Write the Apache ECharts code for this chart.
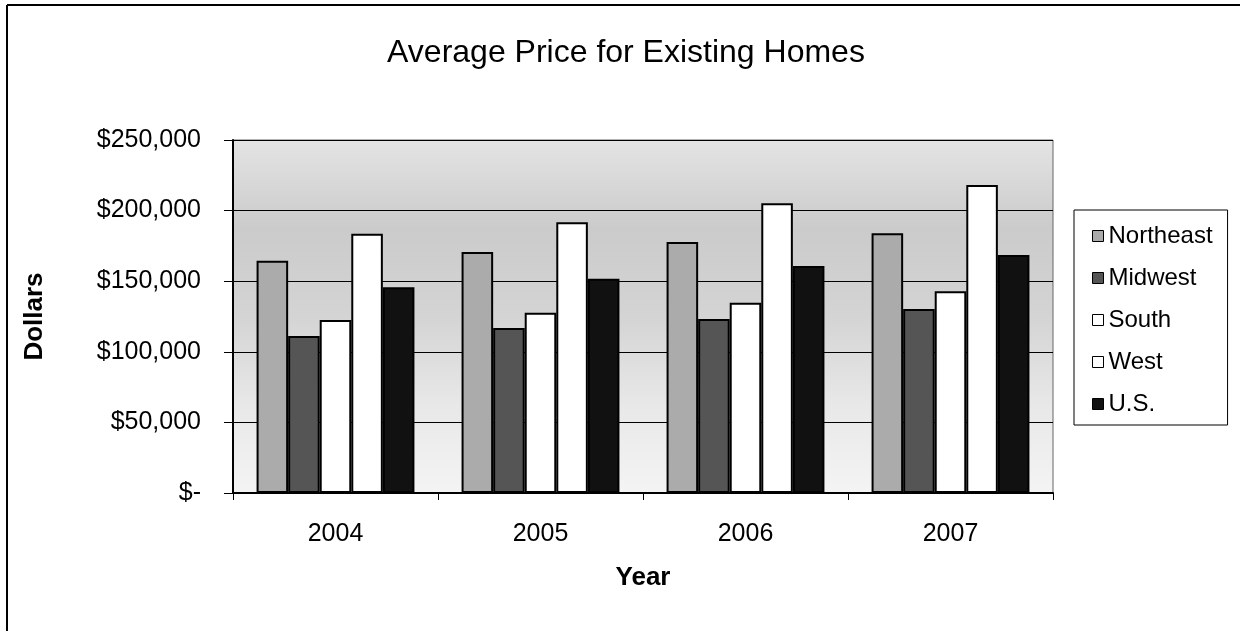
<!DOCTYPE html>
<html>
<head>
<meta charset="utf-8">
<script src="https://cdn.jsdelivr.net/npm/echarts@6/dist/echarts.min.js"></script>
<style>html,body{margin:0;padding:0;background:#fff;}#chart{width:1240px;height:631px;}</style>
</head>
<body>
<div id="chart"></div>
<script>
const years = ['2004', '2005', '2006', '2007'];
const northeast = [164500, 170700, 177800, 183900];
const midwest = [111200, 116900, 123200, 130300];
const south = [122500, 127700, 134800, 142800];
const west = [183600, 191700, 205200, 218100];
const us = [145700, 151800, 160800, 168600];
const yTicks = [0, 50000, 100000, 150000, 200000, 250000];

const FONT = '"Liberation Sans", Arial, sans-serif';
function fmt(v) {
  if (v === 0) return '$-';
  return '$' + String(v).replace(/\B(?=(\d{3})+(?!\d))/g, ',');
}
function bar(name, data, color) {
  return {
    name: name, type: 'bar', data: data,
    barGap: '0%', barCategoryGap: '23%',
    itemStyle: { color: color, borderColor: '#000', borderWidth: 2 }
  };
}
const chart = echarts.init(document.getElementById('chart'), null, { renderer: 'canvas' });
chart.setOption({
  animation: false,
  backgroundColor: '#fff',
  title: {
    text: 'Average Price for Existing Homes',
    left: 621, top: 32, textAlign: 'center',
    textStyle: { fontFamily: FONT, fontSize: 32, fontWeight: 'normal', color: '#000' }
  },
  grid: {
    left: 233, right: 187, top: 140, bottom: 138,
    show: true, borderColor: '#666', borderWidth: 1,
    backgroundColor: new echarts.graphic.LinearGradient(0, 0, 0, 1, [
      { offset: 0, color: '#e4e4e4' },
      { offset: 0.25, color: '#cbcbcb' },
      { offset: 0.5, color: '#d4d4d4' },
      { offset: 0.75, color: '#e8e8e8' },
      { offset: 1, color: '#f4f4f4' }
    ])
  },
  legend: {
    orient: 'vertical', left: 1074, top: 210,
    padding: [14, 15, 9, 18],
    borderColor: '#000', borderWidth: 1,
    backgroundColor: '#fff',
    itemWidth: 11, itemHeight: 11, itemGap: 18,
    icon: 'rect',
    itemStyle: { borderWidth: 1, borderColor: '#000' },
    textStyle: { fontFamily: FONT, fontSize: 24, color: '#000', padding: [0, 0, 0, 0] },
    data: ['Northeast', 'Midwest', 'South', 'West', 'U.S.']
  },
  xAxis: {
    type: 'category', data: years,
    name: 'Year', nameLocation: 'middle', nameGap: 72,
    nameTextStyle: { fontFamily: FONT, fontSize: 26, fontWeight: 'bold', color: '#000' },
    axisLine: { lineStyle: { color: '#000', width: 2 } },
    axisTick: { show: true, length: 7, lineStyle: { color: '#000', width: 1 } },
    axisLabel: { fontFamily: FONT, fontSize: 25, color: '#000', margin: 29 }
  },
  yAxis: {
    type: 'value', min: 0, max: 250000, interval: 50000,
    name: 'Dollars', nameLocation: 'middle', nameGap: 185, nameRotate: 90,
    nameTextStyle: { fontFamily: FONT, fontSize: 26, fontWeight: 'bold', color: '#000' },
    axisLine: { show: true, lineStyle: { color: '#000', width: 2 } },
    axisTick: { show: true, length: 9, lineStyle: { color: '#000', width: 1 } },
    axisLabel: { fontFamily: FONT, fontSize: 25, color: '#000', margin: 32,
      formatter: function (v) { return yTicks.indexOf(v) >= 0 ? fmt(v) : ''; } },
    splitLine: { show: true, lineStyle: { color: '#000', width: 1 } }
  },
  graphic: [
    { type: 'line', shape: { x1: 7, y1: 5, x2: 1240, y2: 5 }, style: { stroke: '#000', lineWidth: 2 }, silent: true },
    { type: 'line', shape: { x1: 7, y1: 5, x2: 7, y2: 631 }, style: { stroke: '#000', lineWidth: 2 }, silent: true }
  ],
  series: [
    bar('Northeast', northeast, '#ababab'),
    bar('Midwest', midwest, '#555555'),
    bar('South', south, '#ffffff'),
    bar('West', west, '#ffffff'),
    bar('U.S.', us, '#111111')
  ]
});
</script>
</body>
</html>
